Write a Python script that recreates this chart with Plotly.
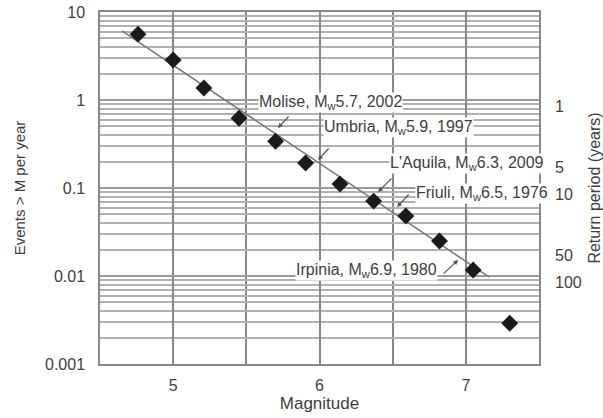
import math
import plotly.graph_objects as go

# Observed cumulative rates
magnitude = [4.76, 5.0, 5.21, 5.45, 5.70, 5.905, 6.14, 6.37, 6.59, 6.82, 7.05, 7.30]
events_per_year = [5.6, 2.85, 1.37, 0.62, 0.34, 0.192, 0.111, 0.071, 0.048, 0.025, 0.0117, 0.0029]

# Fitted Gutenberg-Richter line (end points)
fit_mag = [4.65, 7.16]
fit_rate = [6.1, 0.0097]

# Return period axis
return_period = [1, 5, 10, 50, 100]
return_rate = [1.0 / t for t in return_period]

# Event annotations
labels = ["Molise, M<sub>w</sub>5.7, 2002", "Umbria, M<sub>w</sub>5.9, 1997",
          "L'Aquila, M<sub>w</sub>6.3, 2009", "Friuli, M<sub>w</sub>6.5, 1976",
          "Irpinia, M<sub>w</sub>6.9, 1980"]
tip_mag = [5.716, 5.99, 6.40, 6.53, 6.947]
tip_rate = [0.481, 0.208, 0.0901, 0.0608, 0.0152]
tail_dx = [12, 12, 15, 13, -16]
tail_dy = [-13, -13, -15, -14, 15]
text_mag = [5.58, 6.024, 6.475, 6.653, 6.81]
text_rate = [0.949, 0.493, 0.1875, 0.0877, 0.0117]
text_anchor = ["left", "left", "left", "left", "right"]

FONT = "Liberation Sans, Arial, sans-serif"
TXT = "#404040"

fig = go.Figure()
fig.add_trace(go.Scatter(x=fit_mag, y=fit_rate, mode="lines",
                         line=dict(color="#777777", width=1.5), showlegend=False, hoverinfo="skip"))
fig.add_trace(go.Scatter(x=magnitude, y=events_per_year, mode="markers",
                         marker=dict(symbol="diamond", size=13, color="#1a1a1a"),
                         showlegend=False))
fig.add_trace(go.Scatter(x=[fit_mag[0]] * len(return_rate), y=return_rate, yaxis="y2",
                         mode="markers", marker=dict(opacity=0), showlegend=False, hoverinfo="skip"))

ann = []
for lab, tm, tr, dx, dy, xm, yr, anc in zip(labels, tip_mag, tip_rate, tail_dx, tail_dy,
                                             text_mag, text_rate, text_anchor):
    ann.append(dict(x=tm, y=math.log10(tr), xref="x", yref="y", text="", showarrow=True,
                    ax=dx, ay=dy, arrowhead=2, arrowsize=0.8, arrowwidth=1.2,
                    arrowcolor="#555555"))
    ann.append(dict(x=xm, y=math.log10(yr), xref="x", yref="y", yanchor="middle", xanchor=anc,
                    text=lab, showarrow=False, bgcolor="white", borderpad=0,
                    font=dict(family=FONT, size=16, color=TXT)))

fig.update_layout(
    width=603, height=418,
    margin=dict(l=100, r=64, t=12, b=54),
    plot_bgcolor="white", paper_bgcolor="white",
    font=dict(family=FONT, size=16, color=TXT),
    annotations=ann,
    xaxis=dict(range=[4.5, 7.5], tickvals=[5, 6, 7], showgrid=True, automargin=False,
               gridcolor="#888888", gridwidth=1.5,
               minor=dict(dtick=0.5, tick0=4.5, showgrid=True, gridcolor="#888888", gridwidth=1.5),
               showline=True, linecolor="#888888", linewidth=1.5, mirror=True,
               ticks="", ticklabelstandoff=6, zeroline=False,
               title=dict(text="Magnitude", standoff=1, font=dict(size=17))),
    yaxis=dict(type="log", range=[-3, 1], tickvals=[0.001, 0.01, 0.1, 1, 10],
               ticktext=["0.001", "0.01", "0.1", "1", "10"], automargin=False,
               showgrid=True, gridcolor="#999999", gridwidth=1.5,
               minor=dict(dtick="D1", showgrid=True, gridcolor="#b0b0b0", gridwidth=1.5),
               showline=True, linecolor="#888888", linewidth=1.5, mirror=True,
               ticks="", ticklabelstandoff=10, zeroline=False,
               title=dict(text="Events > M per year", standoff=16, font=dict(size=15))),
    yaxis2=dict(type="log", range=[-2.93, 1.07], overlaying="y", side="right",
                tickvals=return_rate, ticktext=[str(t) for t in return_period],
                automargin=False,
                showgrid=False, zeroline=False, showline=False, ticks="",
                ticklabelstandoff=15,
                title=dict(text="Return period (years)", standoff=9, font=dict(size=16))),
)

fig.write_html("out.html")
